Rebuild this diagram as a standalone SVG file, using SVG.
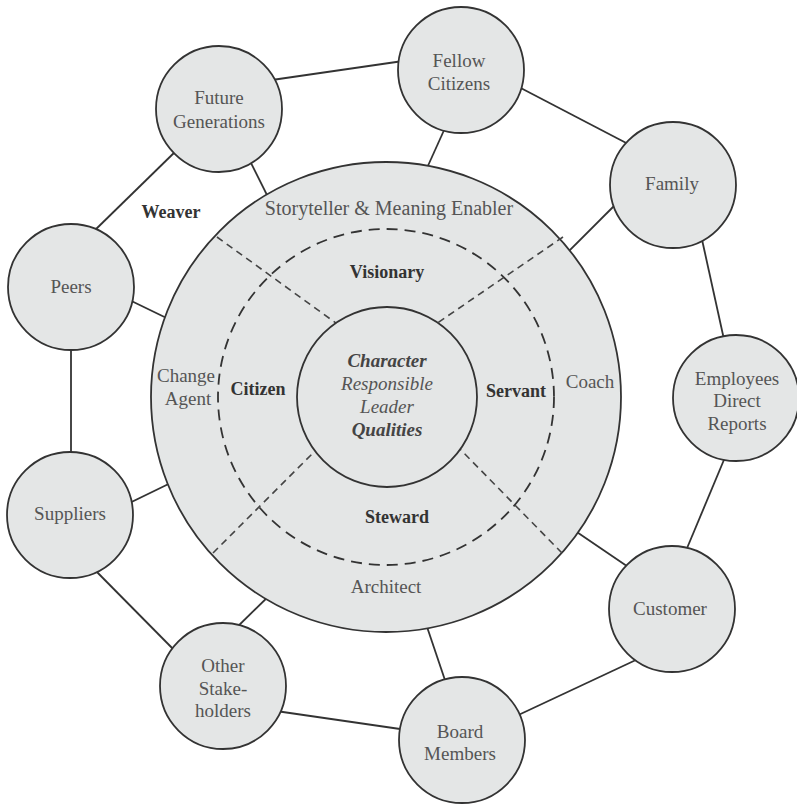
<svg xmlns="http://www.w3.org/2000/svg" width="797" height="804" viewBox="0 0 797 804">
<style>
.bg{fill:#ffffff}
.n{fill:#e4e6e6;stroke:#333;stroke-width:1.8}
.c{stroke:#333;stroke-width:1.8;fill:none}
.d{stroke:#333;stroke-width:1.8;fill:none;stroke-dasharray:11 7}
.dl{stroke:#444;stroke-width:1.6;fill:none;stroke-dasharray:7 5}
text{font-family:"Liberation Serif","Times New Roman",serif;text-anchor:middle}
.t{font-size:19px;fill:#555}
.b{font-size:18px;font-weight:bold;fill:#333}
.i{font-size:19px;font-style:italic;fill:#555}
.bi{font-size:19px;font-style:italic;font-weight:bold;fill:#444}
.o{font-size:20px;fill:#555}
</style>
<rect class="bg" width="797" height="804"/>
<g id="connectors">
<line class="c" x1="265" y1="81" x2="410" y2="60"/>
<line class="c" x1="515" y1="85" x2="632" y2="146"/>
<line class="c" x1="701" y1="235" x2="725" y2="344"/>
<line class="c" x1="726" y1="455" x2="685" y2="553"/>
<line class="c" x1="638" y1="659" x2="512" y2="718"/>
<line class="c" x1="276" y1="711" x2="407" y2="730"/>
<line class="c" x1="92" y1="567" x2="178" y2="654"/>
<line class="c" x1="71" y1="345" x2="71" y2="455"/>
<line class="c" x1="92" y1="233" x2="179" y2="148"/>
<line class="c" x1="240" y1="141" x2="275" y2="211"/>
<line class="c" x1="450" y1="117" x2="422" y2="179"/>
<line class="c" x1="625" y1="195" x2="560" y2="260"/>
<line class="c" x1="568" y1="526" x2="640" y2="575"/>
<line class="c" x1="423" y1="615" x2="450" y2="695"/>
<line class="c" x1="275" y1="590" x2="230" y2="634"/>
<line class="c" x1="185" y1="476" x2="115" y2="510"/>
<line class="c" x1="115" y1="293" x2="185" y2="327"/>
</g>
<g id="core">
<circle class="n" cx="386" cy="397" r="235"/>
<circle class="d" cx="386" cy="397" r="168"/>
<line class="dl" x1="217" y1="237" x2="340" y2="326"/>
<line class="dl" x1="563" y1="237" x2="433" y2="326"/>
<line class="dl" x1="213" y1="553" x2="318" y2="448"/>
<line class="dl" x1="562" y1="553" x2="455" y2="444"/>
<circle class="n" cx="387" cy="397" r="90"/>
<text class="o" x="389" y="215">Storyteller &amp; Meaning Enabler</text>
<text class="b" x="387" y="278">Visionary</text>
<text class="t" x="186" y="382">Change</text>
<text class="t" x="188" y="405">Agent</text>
<text class="b" x="258" y="395">Citizen</text>
<text class="b" x="516" y="397">Servant</text>
<text class="t" x="590" y="388">Coach</text>
<text class="b" x="397" y="523">Steward</text>
<text class="t" x="386" y="593">Architect</text>
<text class="bi" x="387" y="367">Character</text>
<text class="i" x="387" y="390">Responsible</text>
<text class="i" x="387" y="413">Leader</text>
<text class="bi" x="387" y="436">Qualities</text>
<text class="b" x="171" y="218">Weaver</text>
</g>
<g id="future"><circle class="n" cx="219" cy="109" r="63"/><text class="t" x="219" y="104">Future</text><text class="t" x="219" y="128">Generations</text></g>
<g id="fellow"><circle class="n" cx="461" cy="70" r="63"/><text class="t" x="459" y="67">Fellow</text><text class="t" x="459" y="90">Citizens</text></g>
<g id="family"><circle class="n" cx="673" cy="185" r="63"/><text class="t" x="672" y="190">Family</text></g>
<g id="employees"><circle class="n" cx="736" cy="398" r="63"/><text class="t" x="737" y="385">Employees</text><text class="t" x="737" y="407">Direct</text><text class="t" x="737" y="430">Reports</text></g>
<g id="customer"><circle class="n" cx="672" cy="609" r="63"/><text class="t" x="670" y="615">Customer</text></g>
<g id="board"><circle class="n" cx="462" cy="740" r="63"/><text class="t" x="460" y="738">Board</text><text class="t" x="460" y="760">Members</text></g>
<g id="other"><circle class="n" cx="223" cy="686" r="63"/><text class="t" x="223" y="672">Other</text><text class="t" x="223" y="695">Stake-</text><text class="t" x="223" y="717">holders</text></g>
<g id="suppliers"><circle class="n" cx="70" cy="515" r="63"/><text class="t" x="70" y="520">Suppliers</text></g>
<g id="peers"><circle class="n" cx="71" cy="287" r="63"/><text class="t" x="71" y="293">Peers</text></g>
</svg>
